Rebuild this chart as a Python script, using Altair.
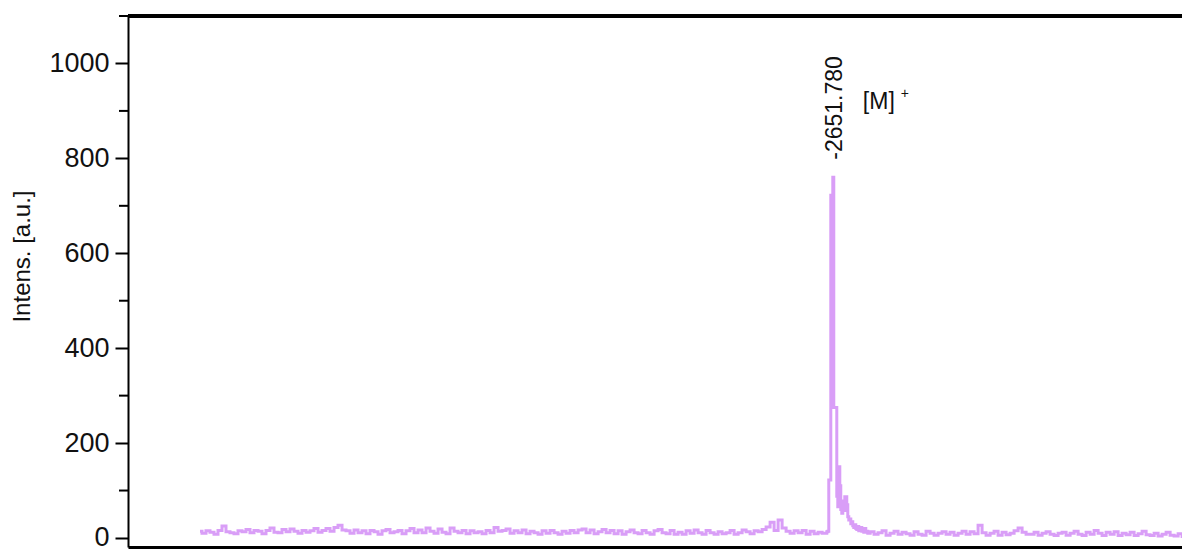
import altair as alt
import pandas as pd

FONT = "Liberation Sans"
LINE_COLOR = "#d99ef7"

MZ_MIN, MZ_MAX = 1000, 3468.5
Y_MIN, Y_MAX = -19, 1100

# baseline before the peak (regular channel grid)
left_start = 1168.6
grid_step = 9.37
left_intensity = [
    14, 10, 15, 12, 8, 16, 25, 13, 11, 9,
    15, 13, 18, 11, 16, 14, 9, 16, 21, 12,
    11, 18, 13, 19, 14, 10, 16, 12, 15, 20,
    12, 16, 20, 14, 22, 27, 17, 15, 10, 17,
    11, 15, 9, 16, 13, 8, 15, 18, 11, 13,
    16, 9, 15, 20, 11, 17, 11, 21, 14, 10,
    19, 12, 9, 21, 14, 11, 16, 9, 15, 11,
    13, 9, 16, 11, 22, 14, 16, 19, 10, 15,
    11, 17, 9, 14, 11, 8, 15, 10, 16, 11,
    8, 14, 10, 16, 11, 17, 19, 11, 17, 9,
    13, 18, 11, 16, 9, 15, 8, 13, 17, 11,
    9, 16, 11, 8, 15, 18, 11, 9, 16, 8,
    12, 8, 15, 10, 17, 11, 8, 16, 11, 8,
    13, 9, 11, 16, 8, 11, 17, 13, 9, 15,
    13, 18, 23, 33, 16, 38, 21, 14, 10, 15,
    11, 16, 8, 14, 9, 12, 10,
]

# molecular ion region
peak_mz = [
    2635.4, 2637.8, 2640.1, 2642.4, 2644.8, 2647.1, 2649.5, 2651.8, 2654.1, 2656.5,
    2658.8, 2661.2, 2663.5, 2665.9, 2668.2, 2670.5, 2672.9, 2675.2, 2677.6, 2679.9,
    2682.2, 2684.6, 2686.9, 2689.3, 2691.6, 2694.0, 2696.3, 2698.6, 2701.0, 2703.3,
    2705.7, 2708.0, 2710.3, 2712.7, 2715.0, 2717.4, 2719.7, 2722.1, 2724.4, 2726.7,
    2729.1, 2731.4, 2733.8,
]
peak_intensity = [
    10, 13, 14, 122, 122, 722, 722, 760, 275, 275,
    275, 88, 66, 150, 110, 60, 52, 78, 58, 87,
    87, 70, 45, 38, 40, 30, 34, 26, 22, 28,
    20, 18, 24, 15, 16, 22, 14, 18, 12, 20,
    12, 14, 10,
]

# baseline after the peak (regular channel grid)
right_start = 2742.6
right_intensity = [
    13, 8, 11, 15, 6, 10, 14, 8, 12, 9,
    6, 13, 8, 6, 14, 10, 6, 10, 13, 8,
    12, 6, 10, 14, 8, 13, 9, 27, 11, 6,
    10, 14, 6, 12, 7, 10, 15, 21, 12, 8,
    8, 12, 6, 10, 13, 8, 5, 10, 12, 6,
    10, 14, 8, 5, 12, 8, 16, 10, 5, 12,
    8, 13, 5, 10, 7, 12, 5, 9, 14, 7,
    5, 10, 4, 8, 12, 6, 4, 9, 3, 6,
]

left_mz = [round(left_start + i * grid_step, 2) for i in range(len(left_intensity))]
right_mz = [round(right_start + i * grid_step, 2) for i in range(len(right_intensity))]

spec = pd.DataFrame({
    "mz": left_mz + peak_mz + right_mz,
    "intensity": left_intensity + peak_intensity + right_intensity,
})

major_ticks = [0, 200, 400, 600, 800, 1000]
minor_ticks = [100, 300, 500, 700, 900, 1100]

peak_label = pd.DataFrame({"mz": [2651.78], "intensity": [797], "label": ["-2651.780"]})
ion_label = pd.DataFrame({"mz": [2721], "intensity": [919], "label": ["[M]"]})
ion_charge = pd.DataFrame({"mz": [2810], "intensity": [935], "label": ["+"]})
top_border = pd.DataFrame({"intensity": [Y_MAX]})
minor_df = pd.DataFrame({"intensity": minor_ticks})

xscale = alt.Scale(domain=[MZ_MIN, MZ_MAX], nice=False, zero=False)
yscale = alt.Scale(domain=[Y_MIN, Y_MAX], nice=False, zero=False)

x_axis = alt.Axis(labels=False, ticks=False, title=None, grid=False,
                  domainColor="black", domainWidth=3)
y_axis = alt.Axis(values=major_ticks, format="d", grid=False, tickSize=13, tickWidth=2,
                  tickColor="black", domainColor="black", domainWidth=2,
                  labelFont=FONT, labelFontSize=27, labelColor="#111",
                  labelPadding=6, title="Intens. [a.u.]", titleFont=FONT,
                  titleFontSize=24, titleFontWeight="normal", titleColor="#111",
                  titleX=-106, titleY=240, titleBaseline="middle")


def xe():
    return alt.X("mz:Q", scale=xscale, axis=x_axis)


def ye():
    return alt.Y("intensity:Q", scale=yscale, axis=y_axis)


line = alt.Chart(spec).mark_line(
    interpolate="step", color=LINE_COLOR, strokeWidth=3, clip=True
).encode(x=xe(), y=ye())

minor = alt.Chart(minor_df).mark_rule(color="black", strokeWidth=2).encode(
    y=ye(), x=alt.value(-9), x2=alt.value(0),
)

top = alt.Chart(top_border).mark_rule(color="black", strokeWidth=4).encode(y=ye())

t1 = alt.Chart(peak_label).mark_text(
    angle=270, align="left", baseline="middle", fontSize=23, font=FONT, color="#111", dy=2
).encode(x=xe(), y=ye(), text="label:N")

t2 = alt.Chart(ion_label).mark_text(
    align="left", baseline="middle", fontSize=23, font=FONT, color="#111"
).encode(x=xe(), y=ye(), text="label:N")

t3 = alt.Chart(ion_charge).mark_text(
    align="left", baseline="middle", fontSize=14, font=FONT, color="#111"
).encode(x=xe(), y=ye(), text="label:N")

chart = alt.layer(line, minor, top, t1, t2, t3).properties(
    width=1054, height=531, autosize="none",
    padding={"left": 120, "top": 8, "right": 0, "bottom": 6},
).configure_view(stroke=None).configure(background="white")

chart.save("out.html", embed_options={"renderer": "svg", "actions": False})
